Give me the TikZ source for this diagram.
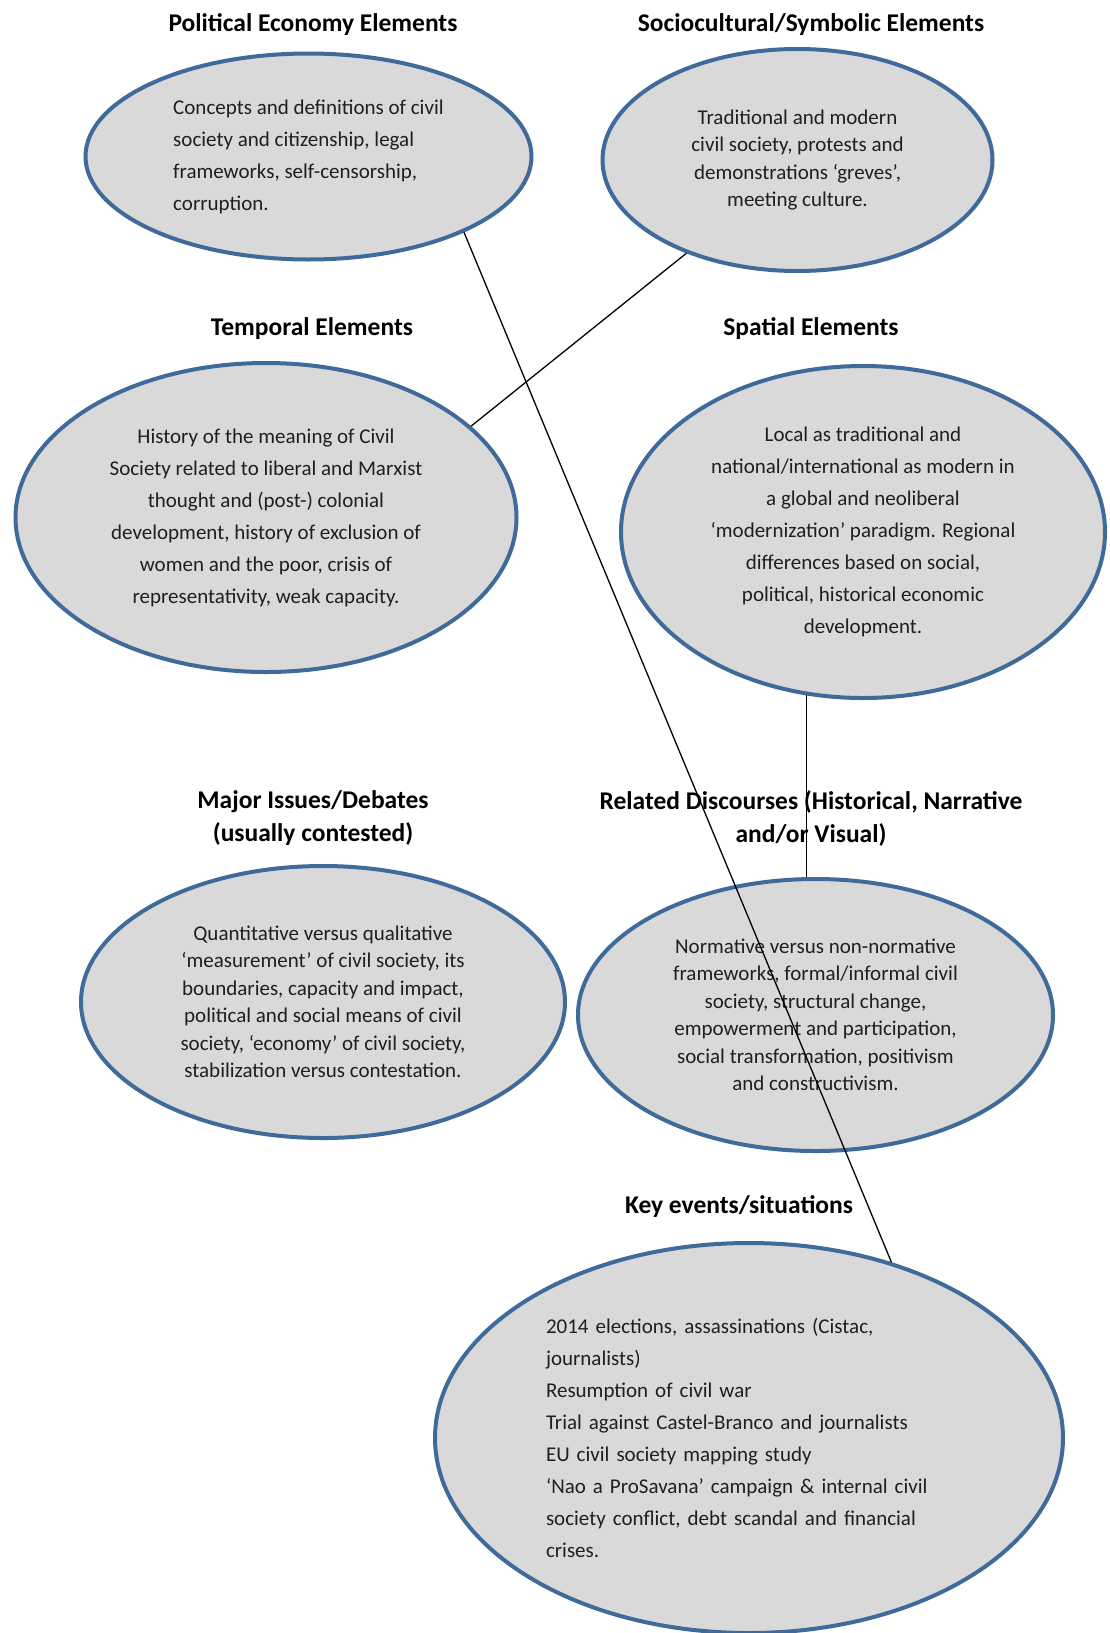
\documentclass[tikz,border=0pt]{standalone}
\usepackage{fontspec}
\setmainfont{Carlito}
\usetikzlibrary{shapes.geometric}
\definecolor{elpfill}{RGB}{217,217,217}
\definecolor{elpline}{RGB}{63,106,154}
\tikzset{
  elp/.style={ellipse, draw=elpline, fill=elpfill, line width=4pt, inner sep=0pt,
              align=center, text=black!88},
  body/.style={font=\fontsize{21}{32}\selectfont},
  tight/.style={font=\fontsize{21}{27.5}\selectfont},
  hdr/.style={font=\fontsize{25.5}{33}\selectfont\bfseries, align=center, inner sep=0pt},
  lnk/.style={line width=1.3pt},
}

\begin{document}
\begin{tikzpicture}[x=1pt,y=-1pt]
    \useasboundingbox (0,0) rectangle (1109,1633);
    \node[hdr] (polh) at (313,25)  {Political Economy Elements};
    \node[hdr] (soch) at (811,25)  {Sociocultural/Symbolic Elements};
    \node[hdr] (tmph) at (312,329) {Temporal Elements};
    \node[hdr] (spah) at (811,329) {Spatial Elements};
    \node[hdr] (issh) at (313,818) {Major Issues/Debates\\(usually contested)};
    \node[hdr] (dish) at (811,818) {Related Discourses (Historical, Narrative\\and/or Visual)};
    \node[hdr] (keyh) at (739,1207) {Key events/situations};
    \node[elp,body,minimum width=446pt,minimum height=206pt,align=left] (pol) at (308.5,156.5)
      {Concepts and definitions of civil\\society and citizenship, legal\\frameworks, self-censorship,\\corruption.};
    \node[elp,tight,minimum width=390pt,minimum height=222pt] (soc) at (797.5,160)
      {Traditional and modern\\civil society, protests and\\demonstrations ‘greves’,\\meeting culture.};
    \node[elp,body,minimum width=501pt,minimum height=309pt] (tmp) at (266,517.5)
      {History of the meaning of Civil\\Society related to liberal and Marxist\\thought and (post-) colonial\\development, history of exclusion of\\women and the poor, crisis of\\representativity, weak capacity.};
    \node[elp,body,minimum width=484pt,minimum height=332pt] (spa) at (863,532)
      {Local as traditional and\\national/international as modern in\\a global and neoliberal\\‘modernization’ paradigm. Regional\\differences based on social,\\political, historical economic\\development.};
    \node[elp,tight,minimum width=484pt,minimum height=272pt] (iss) at (323,1002)
      {Quantitative versus qualitative\\‘measurement’ of civil society, its\\boundaries, capacity and impact,\\political and social means of civil\\society, ‘economy’ of civil society,\\stabilization versus contestation.};
    \node[elp,tight,minimum width=475pt,minimum height=272pt] (dis) at (815.5,1015)
      {Normative versus non-normative\\frameworks, formal/informal civil\\society, structural change,\\empowerment and participation,\\social transformation, positivism\\and constructivism.};
    \node[elp,body,minimum width=628pt,minimum height=390pt,text width=406pt,align=left] (key) at (749,1438)
      {2014 elections, assassinations (Cistac,\\journalists)\\Resumption of civil war\\Trial against Castel-Branco and journalists\\EU civil society mapping study\\‘Nao a ProSavana’ campaign \& internal civil\\society conflict, debt scandal and financial\\crises.};
    \draw[lnk] (pol.-26) -- (key.51);
    \draw[lnk] (soc.-140) -- (tmp.24);
    \draw[lnk] (spa.-109) -- (spa.-109 |- dis.north);
  \end{tikzpicture}
\end{document}
